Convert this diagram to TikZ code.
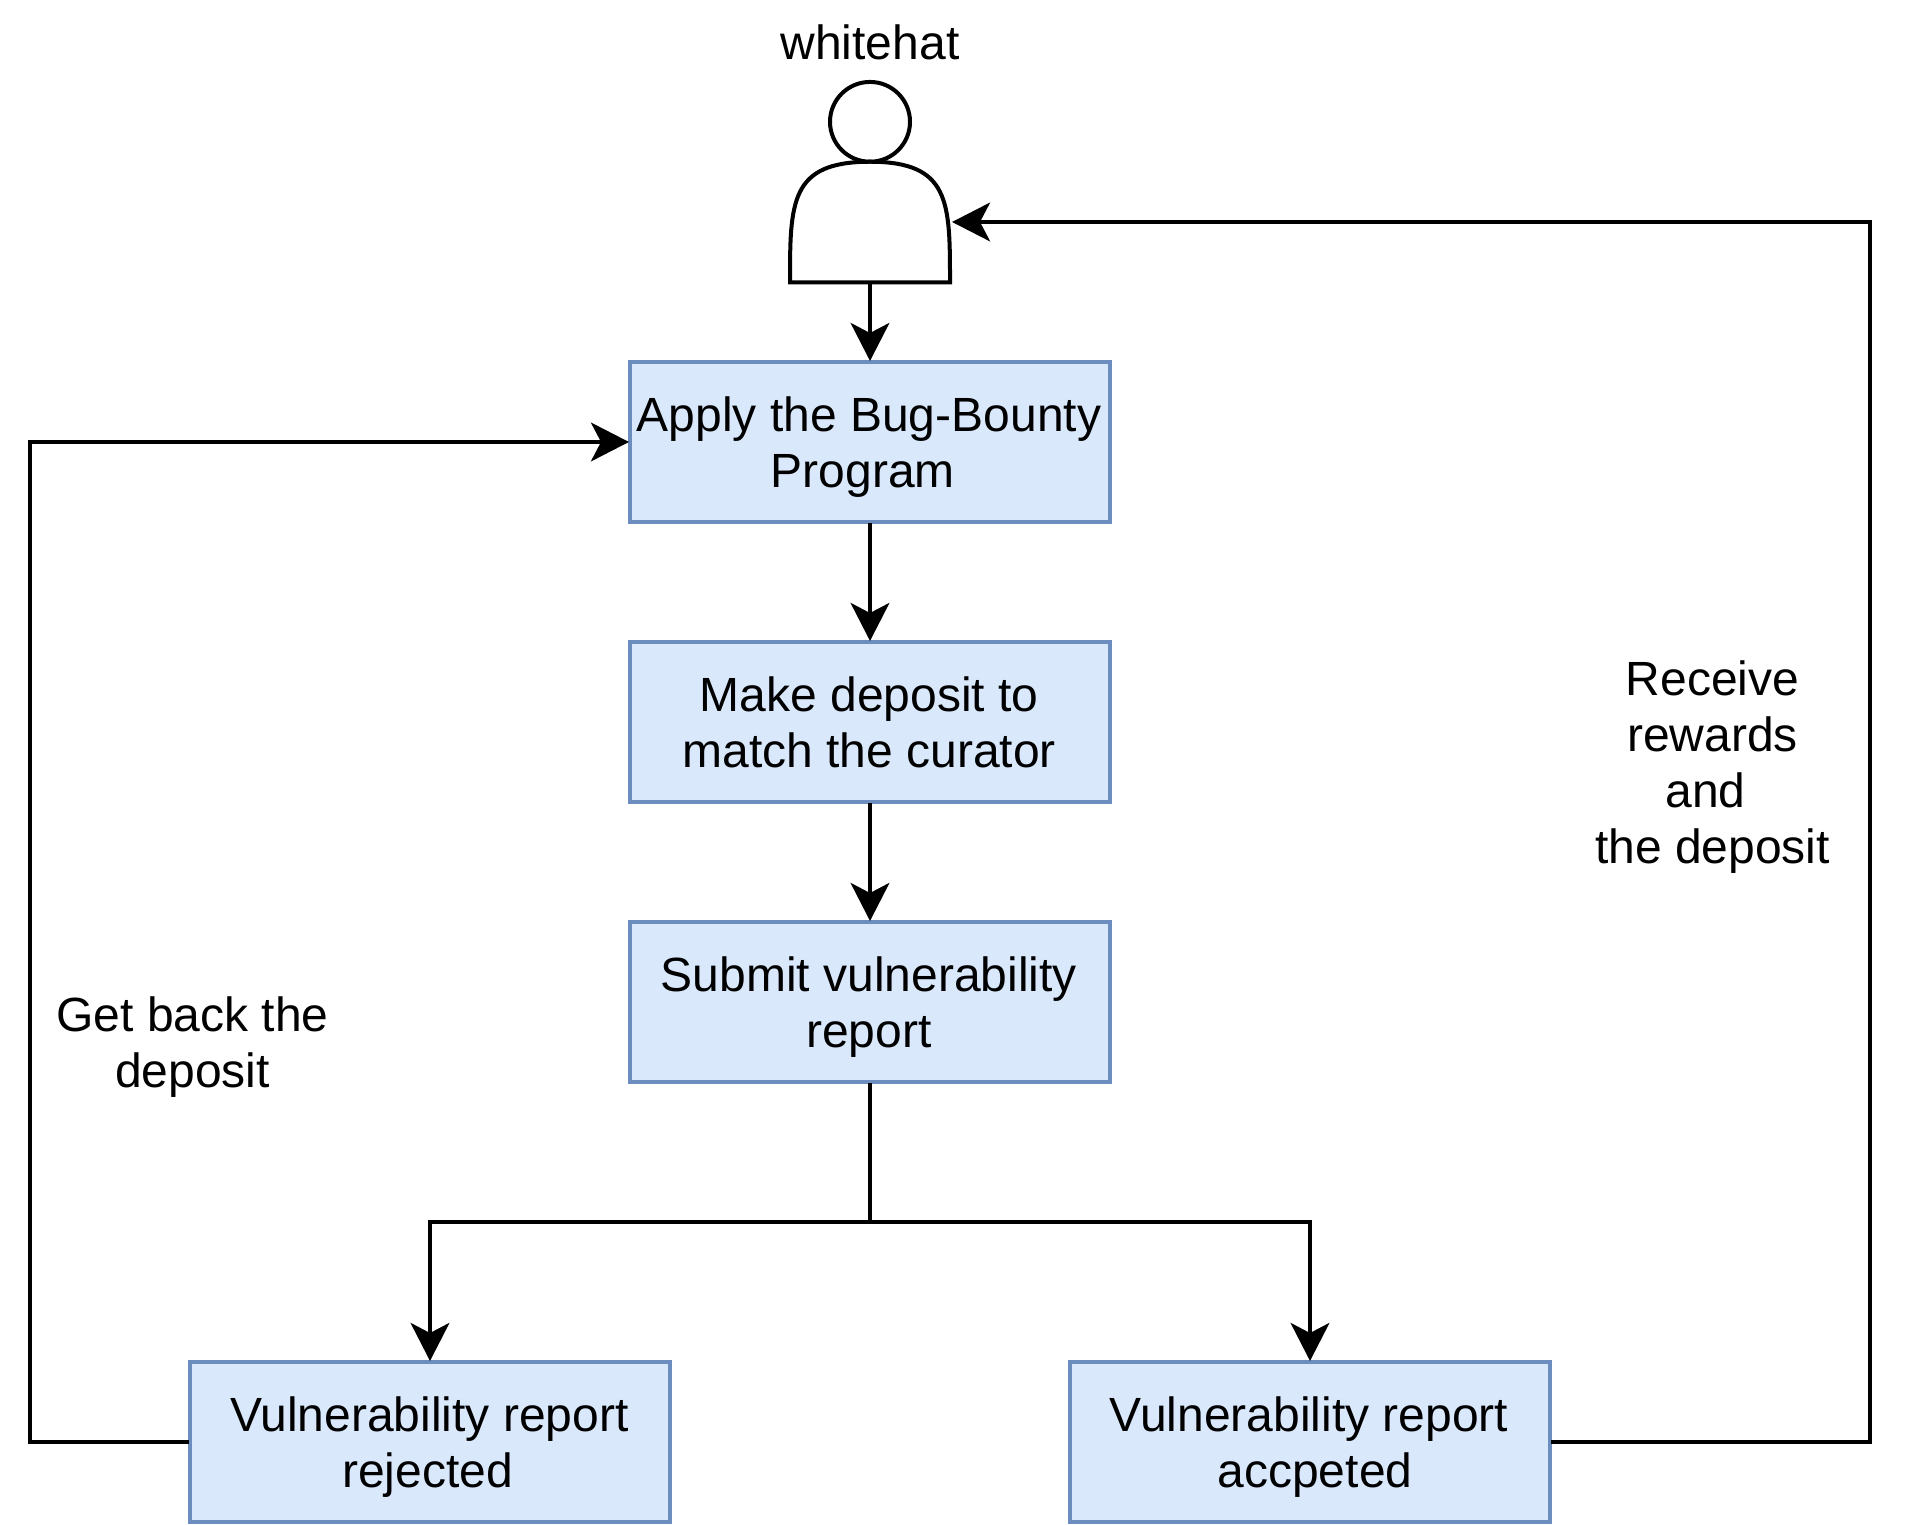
\documentclass[tikz,border=0pt]{standalone}
\usepackage{fontspec}
\setmainfont{Liberation Sans}
\usetikzlibrary{positioning,arrows.meta,calc}
\definecolor{boxfill}{HTML}{DAE8FC}
\definecolor{boxline}{HTML}{6C8EBF}
\newcommand{\tsp}[1]{\hspace*{#1}\mbox{}}
\tikzstyle{stepbox} = [draw=boxline,fill=boxfill,line width=3pt,outer sep=0.75pt,
                       minimum width=360pt,minimum height=120pt,inner sep=0,
                       align=center,text height=68.6pt,text depth=0pt]
\tikzstyle{lbl} = [inner sep=0,align=center,anchor=base]
\tikzstyle{flow} = [-{Stealth[length=28.5pt,width=29pt,inset=7.5pt]},line width=3pt,line join=miter]

\begin{document}
\begin{tikzpicture}[
      x=0.75pt,
      y=0.75pt,
      node distance=210pt,
      font=\fontsize{36pt}{42pt}\selectfont]

     \useasboundingbox (0,0) rectangle (1908,1524);

     \node[inner sep=0,outer sep=0,minimum width=120pt,minimum height=151.1pt] (actor) at (870,1342.25) {};
     \node[lbl,anchor=south,above=15.6pt of actor] (whitehat) {whitehat};

     \node[stepbox] (apply) at (870,1082) {Apply the Bug-Bounty\tsp{1.5pt}\\Program\tsp{11pt}};
     \node[stepbox] (deposit) [below of=apply] {Make deposit to\tsp{1.2pt}\\match the curator\tsp{1.2pt}};
     \node[stepbox] (submit) [below of=deposit] {Submit vulnerability\tsp{1.5pt}\\report\tsp{1.5pt}};
     \node[stepbox] (rejected) [below of=submit,node distance=330pt,xshift=-330pt]
        {Vulnerability report\tsp{1pt}\\rejected\tsp{3.75pt}};
     \node[stepbox] (accepted) [below of=submit,node distance=330pt,xshift=330pt]
        {Vulnerability report\tsp{1.5pt}\\\tsp{7.5pt}accpeted};

     \node[lbl] (getback) at (192.5,436.5) {Get back the\\deposit};
     \node[lbl] (rewards) at (1712.5,660) {Receive\\rewards\\and\tsp{10.5pt}\\the deposit};

     % person drawn around the empty node
     \begin{scope}[shift={(actor.center)},line width=3pt,line join=miter]
       \draw (0,59.9) ellipse [x radius=40,y radius=39.9];
       \draw (-80,-100.75) .. controls (-80,-20.15) and (-80,20) .. (0,20)
             .. controls (80,20) and (80,-20.15) .. (80,-100.75) -- cycle;
     \end{scope}

     \coordinate (bus) at (870,302);
     \coordinate (railW) at (30,1082);
     \coordinate (railE) at (1870,1302);
     \coordinate (actorin) at ($(actor.east)+(2,-40.25)$);

     \path[flow]
       (actor) edge (apply)
       (apply) edge (deposit)
       (deposit) edge (submit)
       ;

     \draw[line width=3pt] (submit) -- (bus);
     \draw[flow] (bus) -| (rejected);
     \draw[flow] (bus) -| (accepted);
     \draw[flow] (rejected) -| (railW) -- (apply);
     \draw[flow] (accepted) -| (railE) -- (actorin);

\end{tikzpicture}
\end{document}
